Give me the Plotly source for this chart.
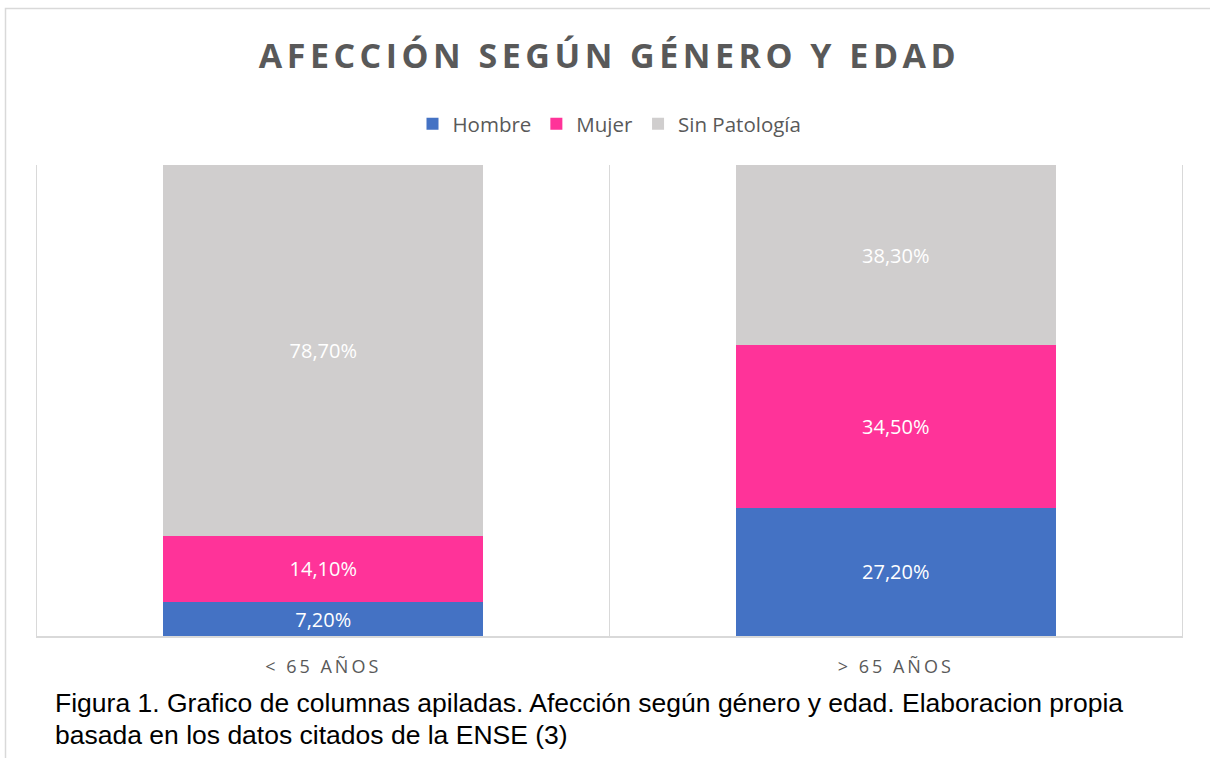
import plotly.graph_objects as go

categories = ["< 65 AÑOS", "> 65 AÑOS"]
hombre = [7.2, 27.2]
mujer = [14.1, 34.5]
sin_patologia = [78.7, 38.3]
series_names = ["Hombre", "Mujer", "Sin Patología"]
colors = ["#4472c4", "#ff3399", "#d0cece"]

title_text = "AFECCIÓN SEGÚN GÉNERO Y EDAD"
caption_lines = [
    "Figura 1. Grafico de columnas apiladas. Afección según género y edad. Elaboracion propia",
    "basada en los datos citados de la ENSE (3)",
]

W, H = 1210, 758
L, R, T, B = 37, 28, 165, 122
pw = W - L - R
ph = H - T - B


def px_x(p):
    return (p - L) / pw


def px_y(p):
    return (H - B - p) / ph


def fmt(v):
    return f"{v:.2f}".replace(".", ",") + "%"


fig = go.Figure()
for name, vals, col in zip(series_names, [hombre, mujer, sin_patologia], colors):
    fig.add_trace(go.Bar(
        name=name, x=categories, y=vals,
        marker=dict(color=col, line=dict(width=0)),
        text=[fmt(v) for v in vals], texttemplate="%{text}",
        textposition="inside", insidetextanchor="middle", textangle=0,
        constraintext="none",
        textfont=dict(family="Open Sans", size=20, color="white"),
        hoverinfo="skip",
    ))

fig.update_layout(
    width=W, height=H,
    margin=dict(l=L, r=R, t=T, b=B),
    barmode="stack", bargap=0.441,
    paper_bgcolor="white", plot_bgcolor="white",
    font=dict(family="Open Sans", color="#595959"),
    title=dict(text=title_text, x=0.5, xref="paper", xanchor="center",
               y=1 - 56 / H, yref="container", yanchor="middle",
               font=dict(family="Open Sans", size=34, color="#595959", weight="bold")),
    legend=dict(orientation="h", x=0.5, xanchor="center", y=px_y(124), yanchor="middle",
                font=dict(family="Open Sans", size=20.5, color="#595959"),
                traceorder="normal", itemclick=False),
    xaxis=dict(type="category", tickson="boundaries", ticks="", showgrid=True,
               gridcolor="#d9d9d9", gridwidth=1.3, showline=True, linecolor="#d9d9d9",
               linewidth=1.5, tickfont=dict(family="Open Sans", size=18, color="#595959"),
               ticklabelstandoff=14, fixedrange=True),
    yaxis=dict(range=[0, 100], showgrid=False, zeroline=False, showticklabels=False,
               ticks="", showline=True, mirror=True, linecolor="#d9d9d9", linewidth=1.3,
               fixedrange=True),
    showlegend=True,
)

fig.add_shape(type="rect", xref="paper", yref="paper",
              x0=px_x(5.5), x1=px_x(1216), y0=px_y(766), y1=px_y(8.5),
              line=dict(color="#d9d9d9", width=1.5), fillcolor="rgba(0,0,0,0)", layer="below")

for line, yc in zip(caption_lines, [703, 735]):
    fig.add_annotation(text=line, xref="paper", yref="paper", x=px_x(53), y=px_y(yc),
                       xanchor="left", yanchor="middle", align="left", showarrow=False,
                       font=dict(family="Liberation Sans", size=26.5, color="#000000"))

post = """
var s=document.createElement('style');
s.innerHTML='body{margin:0 !important;} .gtitle{letter-spacing:4.5px;} .xtick text{letter-spacing:3px;}';
document.head.appendChild(s);
"""
fig.write_html("out.html", post_script=post, config={"displayModeBar": False})
